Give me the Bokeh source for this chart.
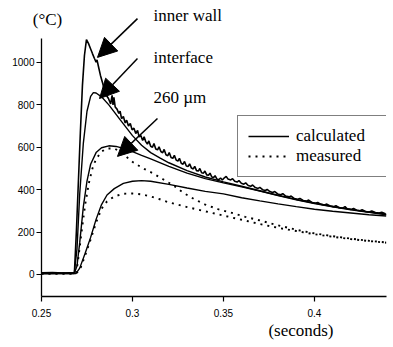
from bokeh.plotting import figure
from bokeh.models import (Range1d, Label, Arrow, NormalHead, FixedTicker,
                          Legend, LegendItem, LinearAxis)
from bokeh.embed import file_html
from bokeh.resources import INLINE

# ---------------- data ----------------
x_ticks = [0.25, 0.3, 0.35, 0.4]
x_tick_labels = ["0.25", "0.3", "0.35", "0.4"]
y_ticks = [0, 200, 400, 600, 800, 1000]

# inner wall (noisy trace)
t_inner = [0.250, 0.256, 0.262, 0.2681, 0.2692, 0.2703, 0.2714, 0.2725, 0.2736, 0.2747,
           0.2758, 0.2769, 0.2780, 0.2791, 0.2800, 0.2805, 0.2813, 0.2824, 0.2835, 0.2846,
           0.2857, 0.2868, 0.2880, 0.2888, 0.2893, 0.2898, 0.2905, 0.2915, 0.2925, 0.2932,
           0.2940, 0.2950, 0.2960, 0.2968, 0.2978, 0.2988, 0.2998, 0.3008, 0.3018, 0.3028,
           0.3036, 0.3046, 0.3056, 0.3064, 0.3072, 0.3082, 0.3090, 0.3100, 0.3110, 0.3118,
           0.3128, 0.3138, 0.3146, 0.3156, 0.3166, 0.3174, 0.3184, 0.3194, 0.3202, 0.3212,
           0.3222, 0.3230, 0.3240, 0.3250, 0.3258, 0.3268, 0.3278, 0.3286, 0.3296, 0.3306,
           0.3314, 0.3324, 0.3334, 0.3342, 0.3352, 0.3362, 0.3370, 0.3380, 0.3390, 0.3398,
           0.3408, 0.3418, 0.3426, 0.3436, 0.3446, 0.3454, 0.3464, 0.3474, 0.3484, 0.3494,
           0.3505, 0.3515, 0.3525, 0.3540, 0.3550, 0.3562, 0.3575, 0.3585, 0.3598, 0.3612,
           0.3622, 0.3636, 0.3650, 0.3660, 0.3675, 0.3690, 0.3700, 0.3715, 0.3730, 0.3740,
           0.3755, 0.3770, 0.3782, 0.3798, 0.3815, 0.3826, 0.3842, 0.3860, 0.3872, 0.3890,
           0.3908, 0.3920, 0.3938, 0.3956, 0.3968, 0.3986, 0.4005, 0.4018, 0.4036, 0.4055,
           0.4068, 0.4086, 0.4105, 0.4118, 0.4136, 0.4155, 0.4168, 0.4180, 0.4200, 0.4215,
           0.4232, 0.4250, 0.4262, 0.4280, 0.4300, 0.4315, 0.4335, 0.4355, 0.4370, 0.4390]
T_inner = [8, 9, 7, 9, 208, 443, 679, 892, 1033, 1108,
           1090, 1066, 1042, 1019, 1002, 1012, 981, 939, 906, 868,
           844, 830, 805, 845, 800, 835, 790, 780, 760, 770,
           735, 745, 715, 728, 700, 712, 682, 690, 665, 680,
           650, 655, 632, 650, 628, 615, 630, 605, 600, 618,
           592, 588, 602, 580, 574, 590, 565, 560, 575, 552,
           548, 562, 540, 535, 548, 525, 520, 533, 512, 510,
           522, 502, 498, 510, 490, 488, 500, 480, 478, 488,
           470, 468, 478, 460, 457, 466, 450, 447, 455, 446,
           456, 463, 450, 446, 452, 440, 436, 443, 430, 426,
           432, 420, 416, 422, 410, 406, 411, 400, 396, 401,
           391, 387, 391, 380, 376, 381, 370, 366, 370, 358,
           355, 359, 349, 346, 351, 340, 336, 340, 331, 328,
           332, 323, 320, 324, 315, 313, 320, 310, 307, 311,
           303, 301, 305, 297, 295, 299, 292, 290, 293, 287]

# interface (calculated)
t_interface = [0.250, 0.260, 0.268, 0.2695, 0.271, 0.273, 0.275, 0.277, 0.2785, 0.280,
               0.283, 0.287, 0.2934, 0.300, 0.305, 0.310, 0.315, 0.320, 0.330, 0.340,
               0.350, 0.360, 0.370, 0.380, 0.390, 0.400, 0.410, 0.420, 0.430, 0.4395]
T_interface = [5, 6, 6, 120, 380, 620, 770, 840, 858, 856,
               838, 800, 728, 655, 610, 575, 550, 527, 490, 460,
               437, 416, 395, 374, 354, 337, 321, 307, 295, 284]

# 260 um (calculated)
t_260_calc = [0.250, 0.268, 0.2695, 0.271, 0.273, 0.275, 0.277, 0.280, 0.283, 0.287,
              0.291, 0.295, 0.300, 0.305, 0.310, 0.315, 0.320, 0.330, 0.340, 0.350,
              0.360, 0.370, 0.380, 0.390, 0.400, 0.410, 0.420, 0.430, 0.4395]
T_260_calc = [5, 5, 40, 150, 320, 440, 520, 575, 598, 607,
              604, 595, 580, 562, 545, 528, 510, 478, 452, 432,
              413, 393, 372, 352, 335, 319, 305, 293, 282]

# 260 um (measured)
t_260_meas = [0.250, 0.269, 0.270, 0.272, 0.274, 0.276, 0.278, 0.280, 0.283, 0.286,
              0.290, 0.294, 0.298, 0.3005, 0.306, 0.3115, 0.317, 0.3225, 0.328, 0.334,
              0.340, 0.347, 0.354, 0.362, 0.370, 0.380, 0.390, 0.400, 0.410, 0.420,
              0.430, 0.4395]
T_260_meas = [5, 5, 60, 200, 330, 430, 500, 545, 580, 594,
              595, 575, 545, 528, 500, 476, 448, 420, 385, 355,
              330, 308, 292, 272, 255, 232, 211, 194, 181, 169,
              159, 151]

# deepest position (calculated)
t_low_calc = [0.250, 0.269, 0.271, 0.274, 0.277, 0.280, 0.283, 0.286, 0.290, 0.295,
              0.300, 0.305, 0.310, 0.320, 0.330, 0.340, 0.350, 0.360, 0.370, 0.380,
              0.390, 0.400, 0.410, 0.420, 0.430, 0.4395]
T_low_calc = [5, 5, 30, 100, 175, 260, 330, 375, 405, 430,
              440, 443, 440, 425, 408, 392, 380, 362, 347, 333,
              320, 308, 298, 290, 282, 276]

# deepest position (measured)
t_low_meas = [0.250, 0.269, 0.271, 0.274, 0.277, 0.280, 0.283, 0.286, 0.290, 0.295,
              0.300, 0.305, 0.310, 0.315, 0.320, 0.330, 0.340, 0.350, 0.360, 0.370,
              0.380, 0.390, 0.400, 0.410, 0.420, 0.430, 0.4395]
T_low_meas = [5, 5, 20, 90, 165, 245, 310, 345, 368, 381,
              382, 378, 368, 355, 340, 318, 298, 278, 258, 238,
              220, 205, 190, 178, 167, 158, 150]

# ---------------- figure ----------------
SERIF = "Liberation Serif"
SANS = "Liberation Sans"

p = figure(width=393, height=347, output_backend="svg", toolbar_location=None,
           x_range=Range1d(0.25, 0.4396), y_range=Range1d(-103.8, 1273.5),
           min_border_left=41, min_border_right=7, min_border_top=4,
           min_border_bottom=51)
p.grid.visible = False
p.outline_line_color = None
p.background_fill_color = "white"
p.border_fill_color = "white"

for ax in (p.xaxis[0], p.yaxis[0]):
    ax.axis_line_color = "black"
    ax.axis_line_width = 1.3
    ax.major_tick_line_color = "black"
    ax.major_tick_line_width = 1.2
    ax.major_tick_in = 0
    ax.major_tick_out = 5
    ax.minor_tick_line_color = None
    ax.major_label_text_font = SANS
    ax.major_label_text_font_size = "10px"
    ax.major_label_text_color = "black"

p.xaxis[0].ticker = FixedTicker(ticks=x_ticks)
p.xaxis[0].major_label_overrides = dict(zip(x_ticks, x_tick_labels))
p.xaxis[0].bounds = (0.25, 0.4396)
p.xaxis[0].major_label_standoff = 7
p.yaxis[0].ticker = FixedTicker(ticks=y_ticks)
p.yaxis[0].bounds = (-104, 1113)
p.yaxis[0].major_label_standoff = 2

# unit labels carried by label-only axes (so they are not clipped by the frame)
T_UNIT_POS = 0.2533
S_UNIT_POS = 0.3926


def label_axis(pos, text, standoff):
    ax = LinearAxis(ticker=FixedTicker(ticks=[pos]),
                    major_label_overrides={pos: text},
                    axis_line_color=None, major_tick_line_color=None,
                    minor_tick_line_color=None, major_tick_in=0, major_tick_out=0,
                    major_label_standoff=standoff,
                    major_label_text_font=SERIF, major_label_text_font_size="17px",
                    major_label_text_color="black")
    return ax


p.add_layout(label_axis(T_UNIT_POS, "(°C)", -24), "above")
p.add_layout(label_axis(S_UNIT_POS, "(seconds)", 1), "below")

dots = dict(line_color="black", line_width=1.9, line_dash="2 5")
r_low_meas = p.line(t_low_meas, T_low_meas, **dots)
r_260_meas = p.line(t_260_meas, T_260_meas, **dots)
r_low_calc = p.line(t_low_calc, T_low_calc, line_color="black", line_width=1.4)
r_260_calc = p.line(t_260_calc, T_260_calc, line_color="black", line_width=1.4)
r_interface = p.line(t_interface, T_interface, line_color="black", line_width=1.4)
r_inner = p.line(t_inner, T_inner, line_color="black", line_width=1.6)

# annotations
lab = dict(text_font=SERIF, text_font_size="17px", text_color="black",
           text_baseline="middle")
p.add_layout(Label(x=0.31154, y=1222, text="inner wall", **lab))
p.add_layout(Label(x=0.31154, y=1024, text="interface", **lab))
p.add_layout(Label(x=0.31154, y=835, text="260 µm", **lab))

for xs, ys, xe, ye in [(0.30275, 1207, 0.28077, 1024),
                       (0.30275, 1019, 0.28187, 830),
                       (0.31374, 736, 0.29176, 557)]:
    p.add_layout(Arrow(end=NormalHead(size=19, fill_color="black", line_color="black"),
                       x_start=xs, y_start=ys, x_end=xe, y_end=ye,
                       line_color="black", line_width=1.5))

legend = Legend(items=[LegendItem(label="calculated", renderers=[r_interface]),
                       LegendItem(label="measured", renderers=[r_low_meas])],
                location=(196, 119), padding=10, spacing=0, margin=0,
                glyph_width=41, glyph_height=20, label_height=20, label_standoff=7,
                label_width=150, border_line_color="black", border_line_width=1.5,
                label_text_font=SERIF, label_text_font_size="17px",
                label_text_color="black", background_fill_color="white",
                background_fill_alpha=1.0)
p.add_layout(legend)

open("out.html", "w").write(file_html(p, INLINE))
